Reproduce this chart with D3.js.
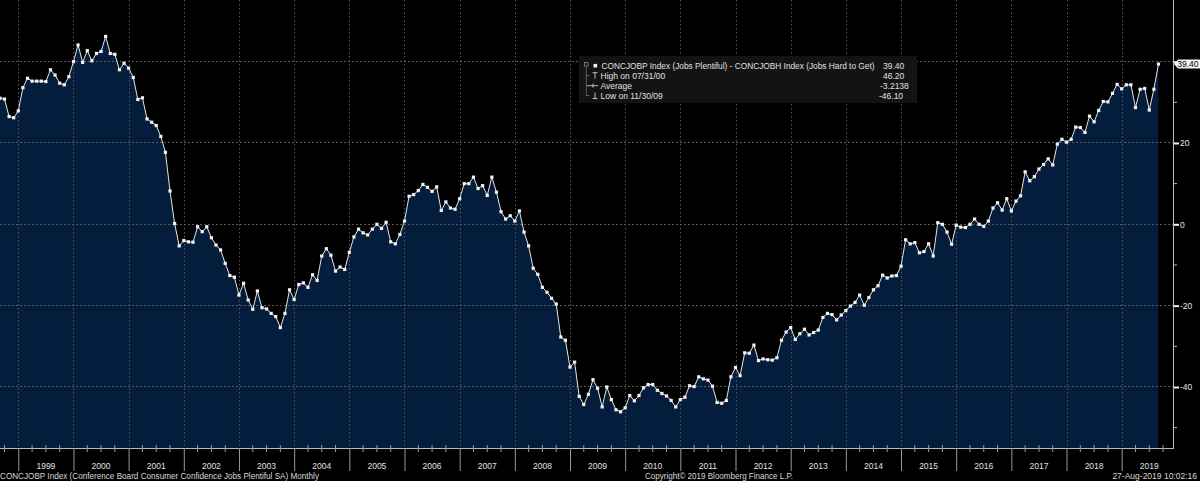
<!DOCTYPE html>
<html><head><meta charset="utf-8">
<script src="https://cdn.jsdelivr.net/npm/d3@7/dist/d3.min.js"></script>
<style>html,body{margin:0;padding:0;background:#000;overflow:hidden}</style>
</head><body>
<svg id="c" width="1200" height="481"></svg>
<script>
// ---- data (monthly, month-end, starting Aug 1998) ----
const startYear = 1998, startMonth = 8;
const values = [
  31.0, 30.8, 26.5, 26.2, 27.9,                                         // 1998 Aug-Dec
  33.6, 35.9, 35.2, 35.2, 35.2, 35.1, 38.0, 36.7, 34.7, 34.3, 36.3, 40.0, // 1999
  44.1, 39.8, 42.7, 40.2, 42.0, 42.5, 46.2, 42.0, 41.8, 38.0, 39.6, 38.4, // 2000
  36.1, 30.7, 31.1, 25.9, 25.1, 24.3, 21.6, 17.7, 8.2, 0.2, -5.3, -4.0,   // 2001
  -4.3, -4.4, -0.6, -1.8, -0.6, -3.3, -5.1, -6.3, -9.6, -12.6, -13.0, -17.4, // 2002
  -14.5, -18.6, -20.9, -16.4, -20.5, -20.8, -21.9, -22.7, -25.4, -21.9, -16.1, -18.5, // 2003
  -14.8, -14.4, -15.5, -12.4, -13.8, -7.8, -6.0, -7.6, -11.5, -10.5, -11.1, -6.9, // 2004
  -3.1, -1.2, -2.1, -2.6, -1.2, 0.0, -1.0, 0.5, -4.3, -4.8, -2.5, 0.8,   // 2005
  6.9, 7.3, 8.3, 9.8, 9.1, 8.1, 9.2, 3.4, 5.5, 4.0, 3.7, 6.3,            // 2006
  10.0, 10.0, 11.6, 8.8, 9.5, 7.1, 11.6, 7.9, 3.1, 1.3, 2.1, 0.8,        // 2007
  3.3, -1.9, -5.3, -10.8, -12.3, -15.5, -16.7, -18.2, -19.6, -27.7, -28.5, -35.1, // 2008
  -33.9, -42.3, -44.3, -41.8, -38.2, -40.3, -44.9, -40.0, -43.1, -45.6, -46.1, -45.1, // 2009
  -42.1, -43.4, -42.1, -40.2, -39.4, -39.4, -40.8, -41.6, -42.2, -43.3, -44.9, -43.1, // 2010
  -42.5, -39.7, -39.9, -37.5, -38.0, -38.3, -39.8, -43.8, -44.0, -43.3, -37.5, -35.2, // 2011
  -37.2, -31.6, -31.7, -29.7, -33.5, -33.1, -33.3, -33.4, -32.8, -28.5, -26.5, -25.4, // 2012
  -28.3, -26.9, -25.8, -27.2, -26.6, -26.0, -22.9, -21.9, -22.2, -23.5, -22.3, -21.2, // 2013
  -20.1, -19.2, -17.4, -19.9, -18.0, -16.1, -15.1, -12.5, -13.2, -12.7, -12.6, -10.3, // 2014
  -3.8, -4.8, -4.5, -7.0, -6.7, -4.8, -7.8, 0.4, 0.0, -1.9, -4.9, -0.2,  // 2015
  -0.7, -0.8, 0.0, 1.3, 0.0, -0.5, 0.8, 4.0, 5.3, 3.5, 6.3, 3.3,         // 2016
  5.7, 7.0, 12.9, 10.7, 11.7, 13.6, 14.7, 16.1, 14.6, 19.7, 20.9, 20.2,  // 2017
  20.9, 23.9, 23.8, 22.6, 26.6, 25.2, 28.0, 30.2, 30.1, 32.2, 34.4, 33.3, // 2018
  34.3, 34.3, 28.7, 33.2, 33.4, 28.1, 33.2, 39.4                          // 2019 Jan-Aug
];
const yearLabels = ["1999","2000","2001","2002","2003","2004","2005","2006","2007","2008","2009",
                    "2010","2011","2012","2013","2014","2015","2016","2017","2018","2019"];
const yTickValues = [40, 20, 0, -20, -40];
const yTickLabels = ["", "20", "0", "-20", "-40"];
const yMinorTicks = [30, 10, -10, -30, -50];
const legendNames = ["CONCJOBP Index (Jobs Plentiful) - CONCJOBH Index (Jobs Hard to Get)",
                     "High on 07/31/00", "Average", "Low on 11/30/09"];
const legendValues = ["39.40", "46.20", "-3.2138", "-46.10"];
const lastValueLabel = "39.40";
const footerLeft = "CONCJOBP Index (Conference Board Consumer Confidence Jobs Plentiful SA)  Monthly";
const footerMid = "Copyright\u00A9 2019 Bloomberg Finance L.P.";
const footerRight = "27-Aug-2019 10:02:16";

// ---- layout ----
const axisX = 1173, plotBottom = 448;
const FONT = "'Liberation Sans', Arial, sans-serif";
const svg = d3.select("#c");
svg.append("rect").attr("width",1200).attr("height",481).attr("fill","#000");

const x = d3.scaleLinear().domain([1999, 2019]).range([18.3, 1121.7]);
const y = d3.scaleLinear().domain([-55, 55.15]).range([plotBottom, 0]);

const data = values.map((v, i) => ({ t: startYear + (startMonth + i) / 12, v }));

// area
svg.append("path").datum(data)
  .attr("fill", "#041d3c")
  .attr("d", d3.area().x(d => x(d.t)).y0(plotBottom).y1(d => y(d.v)));

// gridlines
const years = yearLabels.map(Number);
svg.append("g").selectAll("line").data(yTickValues).join("line")
  .attr("x1", 0).attr("x2", axisX).attr("y1", d => y(d)).attr("y2", d => y(d))
  .attr("stroke", "#5a5a5a").attr("stroke-width", 1).attr("stroke-dasharray", "1.5,2.5")
  .attr("shape-rendering", "crispEdges");
svg.append("g").selectAll("line").data(years).join("line")
  .attr("x1", d => Math.round(x(d)) + 0.5).attr("x2", d => Math.round(x(d)) + 0.5)
  .attr("y1", 0).attr("y2", plotBottom)
  .attr("stroke", "#5a5a5a").attr("stroke-width", 1).attr("stroke-dasharray", "1.5,2.5");

// line + markers
svg.append("path").datum(data)
  .attr("fill", "none").attr("stroke", "#e6e6e6").attr("stroke-width", 1)
  .attr("d", d3.line().x(d => x(d.t)).y(d => y(d.v)));
svg.append("g").selectAll("rect").data(data).join("rect")
  .attr("x", d => x(d.t) - 1.6).attr("y", d => y(d.v) - 1.6)
  .attr("width", 3.2).attr("height", 3.2).attr("fill", "#f2f2f2");

// right axis
const yAxis = d3.axisRight(y).tickValues(yTickValues).tickSize(6).tickPadding(1)
  .tickFormat((d, i) => yTickLabels[i]);
const gy = svg.append("g").attr("transform", `translate(${axisX},0)`).call(yAxis);
gy.select(".domain").remove();
gy.selectAll(".tick line").attr("stroke", "#f0f0f0").attr("stroke-width", 2);
gy.selectAll(".tick text").attr("fill", "#e6e6e6").style("font-family", FONT).style("font-size", "8.5px");
svg.append("g").selectAll("line").data(yMinorTicks).join("line")
  .attr("x1", axisX).attr("x2", axisX + 4).attr("y1", d => y(d)).attr("y2", d => y(d))
  .attr("stroke", "#bbb").attr("stroke-width", 1);
svg.append("line").attr("x1", axisX + 0.5).attr("x2", axisX + 0.5).attr("y1", 0).attr("y2", plotBottom)
  .attr("stroke", "#bdbdbd").attr("stroke-width", 1);

// bottom axis
svg.append("line").attr("x1", 0).attr("x2", axisX + 1).attr("y1", plotBottom + 0.5).attr("y2", plotBottom + 0.5)
  .attr("stroke", "#bdbdbd").attr("stroke-width", 1);
const xAxis = d3.axisBottom(x).tickValues(years).tickSize(23).tickFormat("");
const gx = svg.append("g").attr("transform", `translate(0,${plotBottom})`).call(xAxis);
gx.select(".domain").remove();
gx.selectAll(".tick line").attr("stroke", "#9a9a9a");
const quarters = [];
for (let yr = 1998; yr <= 2019; yr++) for (let q = 1; q < 4; q++) {
  const xv = x(yr + q / 4); if (xv > 0 && xv < axisX) quarters.push(yr + q / 4);
}
svg.append("g").selectAll("line").data(quarters).join("line")
  .attr("x1", d => x(d)).attr("x2", d => x(d)).attr("y1", plotBottom - 3).attr("y2", plotBottom + 4)
  .attr("stroke", "#9a9a9a");
svg.append("g").selectAll("text").data(yearLabels).join("text")
  .attr("x", d => x(+d + 0.5)).attr("y", 469).attr("text-anchor", "middle")
  .attr("fill", "#e0e0e0").style("font-family", FONT).style("font-size", "8.5px").text(d => d);

// last value label
const ly = y(values[values.length - 1]);
svg.append("polygon")
  .attr("points", `${axisX + 1},${ly} ${axisX + 5},${ly - 4.5} 1200,${ly - 4.5} 1200,${ly + 4.5} ${axisX + 5},${ly + 4.5}`)
  .attr("fill", "#f4f4f4");
svg.append("text").attr("x", 1198.5).attr("y", ly + 3).attr("text-anchor", "end")
  .attr("fill", "#000").style("font-family", FONT).style("font-size", "8.5px").text(lastValueLabel);

// legend
const lg = svg.append("g");
lg.append("rect").attr("x", 579).attr("y", 56).attr("width", 338).attr("height", 47).attr("fill", "#131313");
const rowY = [65.7, 75.7, 85.7, 95.5];
// tree connector
lg.append("rect").attr("x", 584.5).attr("y", 62.5).attr("width", 3.5).attr("height", 3.5)
  .attr("fill", "none").attr("stroke", "#888").attr("stroke-width", 0.8);
lg.append("line").attr("x1", 586.3).attr("x2", 586.3).attr("y1", 66.5).attr("y2", rowY[3])
  .attr("stroke", "#777").attr("stroke-width", 0.8);
[1, 3].forEach(i => lg.append("line").attr("x1", 586.3).attr("x2", 589.5).attr("y1", rowY[i]).attr("y2", rowY[i])
  .attr("stroke", "#777").attr("stroke-width", 0.8));
// row icons
lg.append("rect").attr("x", 593.5).attr("y", rowY[0] - 1.8).attr("width", 3.6).attr("height", 3.6).attr("fill", "#eee");
lg.append("path").attr("d", `M592.5,${rowY[1] - 3}H597.5M595,${rowY[1] - 3}V${rowY[1] + 3}`)
  .attr("stroke", "#ccc").attr("stroke-width", 0.9).attr("fill", "none");
lg.append("path").attr("d", `M587,${rowY[2]}H598M593,${rowY[2] - 2}V${rowY[2] + 2}`)
  .attr("stroke", "#ccc").attr("stroke-width", 0.9).attr("fill", "none");
lg.append("path").attr("d", `M595,${rowY[3] - 3}V${rowY[3] + 3}M592.5,${rowY[3] + 3}H597.5`)
  .attr("stroke", "#ccc").attr("stroke-width", 0.9).attr("fill", "none");
const nameX = [601.5, 600.5, 600.5, 600.5];
const nameW = [273, 0, 0, 0];
legendNames.forEach((s, i) => {
  const t = lg.append("text").attr("x", nameX[i]).attr("y", rowY[i] + 3)
    .attr("fill", "#e0e0e0").style("font-family", FONT).style("font-size", "8.5px").text(s);
  if (nameW[i]) t.attr("textLength", nameW[i]).attr("lengthAdjust", "spacingAndGlyphs");
});
const valX = [883, 883, 880, 879];
legendValues.forEach((s, i) => {
  lg.append("text").attr("x", valX[i]).attr("y", rowY[i] + 3)
    .attr("fill", "#e0e0e0").style("font-family", FONT).style("font-size", "8.5px").text(s);
});

// footer
svg.append("text").attr("x", 0).attr("y", 479).attr("fill", "#d8d8d8")
  .style("font-family", FONT).style("font-size", "8.5px")
  .attr("textLength", 319).attr("lengthAdjust", "spacingAndGlyphs").text(footerLeft);
svg.append("text").attr("x", 645).attr("y", 479).attr("fill", "#d8d8d8")
  .style("font-family", FONT).style("font-size", "8.5px")
  .attr("textLength", 148).attr("lengthAdjust", "spacingAndGlyphs").text(footerMid);
svg.append("text").attr("x", 1197).attr("y", 479).attr("text-anchor", "end").attr("fill", "#d8d8d8")
  .style("font-family", FONT).style("font-size", "8.5px").text(footerRight);
</script>
</body></html>
